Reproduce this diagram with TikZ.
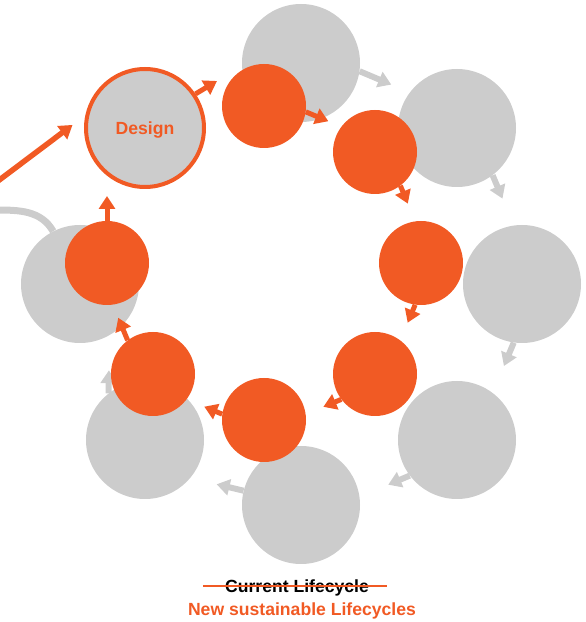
\documentclass[tikz,border=0pt]{standalone}
\usepackage{fontspec}
\setmainfont{Liberation Sans}
\usepackage{tikz}
\usetikzlibrary{%
	arrows.meta,%
	calc%
}
\definecolor{lcorange}{RGB}{241,90,36}
\definecolor{lcgray}{RGB}{204,204,204}
\tikzset{
	old/.style={circle, fill=lcgray, minimum size=118pt, inner sep=0pt},
	new/.style={circle, fill=lcorange, minimum size=84pt, inner sep=0pt},
	oldarrow/.style={lcgray, line width=6pt, -{Triangle[width=16pt,length=13pt]}, shorten >=29pt},
	newarrow/.style={lcorange, line width=5pt, -{Triangle[width=16pt,length=13pt]}, shorten >=19pt},
	lctext/.style={inner sep=0pt, font=\bfseries\fontsize{17.6pt}{20pt}\selectfont}
}

\begin{document}
\begin{tikzpicture}[x=1pt, y=1pt]
		\useasboundingbox (0,0) rectangle (586,622);
		% current lifecycle
		\node[old] (G1) at (301,559) {};
		\node[old] (G2) at (457,494) {};
		\node[old] (G3) at (522,338) {};
		\node[old] (G4) at (457,182) {};
		\node[old] (G5) at (301,117) {};
		\node[old] (G6) at (145,182) {};
		\node[old] (G7) at (80,338) {};
		\draw[oldarrow, shorten >=20pt] (G1.-8) -- (G2.143);
		\draw[oldarrow] (G2.-53) -- (G3.98);
		\draw[oldarrow] (G3.-98) -- (G4.53);
		\draw[oldarrow, shorten >=31pt] (G4.-143) -- (G5.8);
		\draw[oldarrow, shorten >=27pt] (G5.166) -- (G6.-40);
		\draw[oldarrow, shorten >=35pt] (G6.128) -- (G7.-60);
		\coordinate (out) at (-4,412);
		\draw[lcgray, line width=7pt] (G7.117) to[out=120, in=0] (out);
		\node[old, draw=lcorange, line width=4pt, text=lcorange, lctext, text depth=0pt] (D) at (145,494) {Design};
		% new lifecycles
		\node[new] (O1) at (264,516) {};
		\node[new] (O2) at (375,470) {};
		\node[new] (O3) at (421,359) {};
		\node[new] (O4) at (375,248) {};
		\node[new] (O5) at (264,202) {};
		\node[new] (O6) at (153,248) {};
		\node[new] (O7) at (107,359) {};
		\coordinate (tip) at (217,541);
		\coordinate (src) at (-10,435);
		\draw[newarrow, shorten >=0pt] (D.34) -- (tip);
		\draw[newarrow, shorten >=14pt] (O1.-8) -- (O2.143);
		\draw[newarrow] (O2.-53) -- (O3.98);
		\draw[newarrow] (O3.-98) -- (O4.53);
		\draw[newarrow] (O4.-143) -- (O5.8);
		\draw[newarrow] (O5.172) -- (O6.-37);
		\draw[newarrow, shorten >=14pt] (O6.127) -- (O7.-82);
		\draw[newarrow, shorten >=7pt] (O7.north) -- (O7.north |- D.south);
		\draw[newarrow, line width=5.5pt, shorten >=16pt] (src) -- (D.168);
		% legend
		\node[lctext, anchor=base] (L1) at (297,29) {Current Lifecycle};
		\node[lctext, anchor=base, text=lcorange] (L2) at (302,6) {New sustainable Lifecycles};
		\draw[lcorange, line width=2pt] ([xshift=-22pt,yshift=7pt]L1.base west) -- ([xshift=18pt,yshift=7pt]L1.base east);
	\end{tikzpicture}
\end{document}
